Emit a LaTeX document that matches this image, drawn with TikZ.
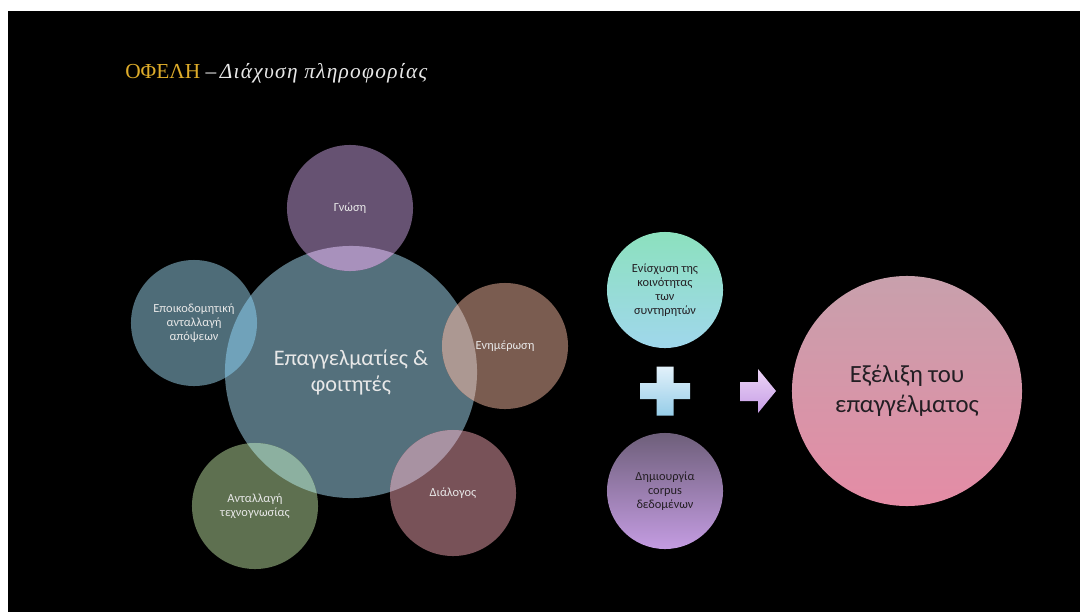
\documentclass[tikz,border=0pt]{standalone}
\usepackage{fontspec}
\setmainfont{Carlito}
\newfontfamily\titlefont{Liberation Serif}

\definecolor{gold}{RGB}{222,172,42}
\definecolor{lighttext}{RGB}{232,232,232}
\definecolor{darktext}{RGB}{35,30,35}
\definecolor{maincol}{RGB}{84,112,124}
\definecolor{gnosicol}{RGB}{102,82,114}
\definecolor{epoikcol}{RGB}{78,108,120}
\definecolor{enimcol}{RGB}{122,92,80}
\definecolor{techcol}{RGB}{94,112,80}
\definecolor{dialcol}{RGB}{120,82,88}
\definecolor{gnosicut}{RGB}{168,145,188}
\definecolor{epoikcut}{RGB}{112,162,186}
\definecolor{enimcut}{RGB}{172,152,146}
\definecolor{techcut}{RGB}{140,176,160}
\definecolor{dialcut}{RGB}{168,146,162}
\definecolor{tealtop}{RGB}{140,225,190}
\definecolor{tealbot}{RGB}{160,215,236}
\definecolor{corptop}{RGB}{110,95,122}
\definecolor{corpbot}{RGB}{196,156,226}
\definecolor{pinktop}{RGB}{200,160,172}
\definecolor{pinkbot}{RGB}{228,140,165}
\definecolor{plustop}{RGB}{226,241,250}
\definecolor{plusbot}{RGB}{150,205,232}
\definecolor{arrtop}{RGB}{236,212,246}
\definecolor{arrbot}{RGB}{198,158,230}

\begin{document}
\begin{tikzpicture}[x=0.025cm, y=-0.025cm,
    bubble/.style={circle, inner sep=0pt, minimum size=3.15cm, align=center,
      text=lighttext, font=\fontsize{8.8}{10}\selectfont},
    cut/.style={path picture={\fill[#1] (main.center) circle [radius=3.15cm];}}]
        \useasboundingbox (0,0) rectangle (1080,612);
        \fill[white] (0,0) rectangle (1080,612);
        \fill[black] (8,11) rectangle (1080,612);

        \node[anchor=base west, inner sep=0pt, font=\titlefont\fontsize{15.2}{17}\selectfont]
          (title) at (125,78) {\textcolor{gold}{ΟΦΕΛΗ} \textcolor{lighttext}{–\,\itshape\addfontfeatures{LetterSpace=6}Διάχυση πληροφορίας}};

        % central group
        \node[circle, inner sep=0pt, minimum size=6.3cm, fill=maincol, align=center,
          text=lighttext, font=\fontsize{15.8}{18.5}\selectfont]
          (main) at (351,372) {Επαγγελματίες \&\\φοιτητές};
        \node[bubble, fill=gnosicol, cut=gnosicut] (gnosi) at (350,208) {Γνώση};
        \node[bubble, fill=epoikcol, cut=epoikcut] (epoik) at (194,323) {Εποικοδομητική\\ανταλλαγή\\απόψεων};
        \node[bubble, fill=enimcol, cut=enimcut] (enim) at (505,346) {Ενημέρωση};
        \node[bubble, fill=techcol, cut=techcut] (tech) at (255,506) {Ανταλλαγή\\τεχνογνωσίας};
        \node[bubble, fill=dialcol, cut=dialcut] (dial) at (453,493) {Διάλογος};

        % right part
        \node[bubble, minimum size=2.9cm, top color=tealtop, bottom color=tealbot, text=darktext]
          (koin) at (665,290) {Ενίσχυση της\\κοινότητας\\των\\συντηρητών};
        \node[bubble, minimum size=2.9cm, top color=corptop, bottom color=corpbot, text=darktext]
          (corpus) at (665,491) {Δημιουργία\\corpus\\δεδομένων};
        \node[bubble, minimum size=5.75cm, top color=pinktop, bottom color=pinkbot, text=darktext,
          font=\fontsize{17.6}{21.5}\selectfont]
          (exel) at (907,391) {Εξέλιξη του\\επαγγέλματος};

        \coordinate (plus) at (665,391);
        \shade[top color=plustop, bottom color=plusbot]
          (plus) +(-8.5,-24.5) -- +(8.5,-24.5) -- +(8.5,-8) -- +(25,-8) -- +(25,8) -- +(8.5,8)
          -- +(8.5,24.5) -- +(-8.5,24.5) -- +(-8.5,8) -- +(-25,8) -- +(-25,-8) -- +(-8.5,-8) -- cycle;

        \coordinate (arr) at (758,391);
        \shade[top color=arrtop, bottom color=arrbot]
          (arr) +(-18,-9) -- +(0,-9) -- +(0,-22) -- +(18,0) -- +(0,22) -- +(0,10) -- +(-18,10) -- cycle;
\end{tikzpicture}
\end{document}
